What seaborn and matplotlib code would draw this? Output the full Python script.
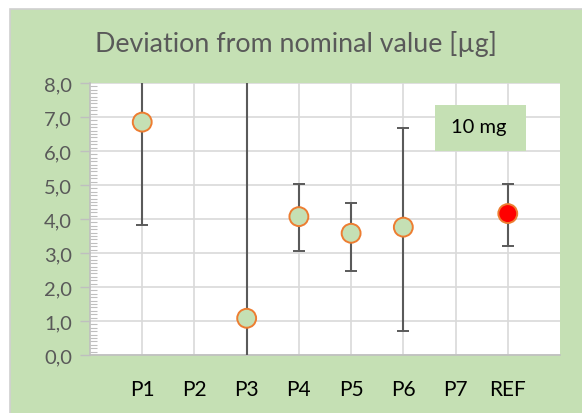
import matplotlib
matplotlib.use("Agg")
import matplotlib.pyplot as plt
import seaborn as sns
import numpy as np
import pandas as pd
from matplotlib.patches import Rectangle
from matplotlib.ticker import MultipleLocator, FuncFormatter

# ---- data ----
categories = ["P1", "P2", "P3", "P4", "P5", "P6", "P7", "REF"]
x_pos = [1, 2, 3, 4, 5, 6, 7, 8]
values = [6.85, np.nan, 1.08, 4.07, 3.58, 3.76, np.nan, 4.16]
err_low = [3.03, np.nan, 7.5, 1.02, 1.10, 3.04, np.nan, 0.94]
err_high = [3.03, np.nan, 7.5, 0.96, 0.90, 2.92, np.nan, 0.87]
title = "Deviation from nominal value [µg]"
note = "10 mg"

sns.set_theme(style="white")
plt.rcParams['font.family'] = ['Lato', 'DejaVu Sans']

df = pd.DataFrame({"cat": categories, "x": x_pos, "y": values,
                   "lo": err_low, "hi": err_high})
df["kind"] = ["ref" if c == "REF" else "sample" for c in categories]
d = df.dropna()

W, H = 582, 414
fig = plt.figure(figsize=(W / 100, H / 100), dpi=100)
fig.patch.set_facecolor("white")
# green chart background with gray border (left and top visible)
bg = Rectangle((10 / W, -0.05), 1.1, 1 - 10 / H + 0.05, transform=fig.transFigure,
               facecolor="#C5E0B4", edgecolor="#D0D0D0", lw=1.2, zorder=-5)
fig.add_artist(bg)

ax = fig.add_axes([90 / W, 1 - 356 / H, 470 / W, 272 / H])
ax.set_facecolor("white")

grid_c = "#D9D9D9"
ax.errorbar(d["x"], d["y"], yerr=[d["lo"], d["hi"]], fmt="none", ecolor="#5A5A5A",
            elinewidth=1.5, capsize=4, capthick=1.4, zorder=3)
pal = {"sample": "#C5E0B4", "ref": "#FF0000"}
sns.scatterplot(data=d, x="x", y="y", hue="kind", palette=pal, s=185,
                edgecolor="#ED7D31", linewidth=1.4, ax=ax, zorder=4, legend=False)

ax.set_xlim(0, 9)
ax.set_ylim(0, 8)
ax.xaxis.set_major_locator(MultipleLocator(1))
ax.yaxis.set_major_locator(MultipleLocator(1))
ax.yaxis.set_minor_locator(MultipleLocator(0.1))
ax.grid(True, which="major", color=grid_c, lw=1.2)
ax.set_axisbelow(True)
for s in ax.spines.values():
    s.set_visible(False)
ax.spines["left"].set_visible(True)
ax.spines["left"].set_color("#BFBFBF")
ax.spines["bottom"].set_visible(True)
ax.spines["bottom"].set_color("#BFBFBF")
ax.spines["left"].set_linewidth(1.2)
ax.spines["bottom"].set_linewidth(1.2)

ax.set_xticks(x_pos)
ax.set_xticklabels(categories)
ax.tick_params(axis="x", length=0, pad=17, labelsize=15, labelcolor="black")
ax.yaxis.set_major_formatter(FuncFormatter(lambda v, p: f"{v:.1f}".replace(".", ",")))
ax.tick_params(axis="y", which="major", direction="out", length=7, width=1,
               color="#BFBFBF", labelsize=14.5, labelcolor="#595959", pad=6, left=True)
ax.tick_params(axis="y", which="minor", direction="in", length=5, width=0.8,
               color="#BFBFBF", left=True)
ax.set_xlabel("")
ax.set_ylabel("")

fig.text(296 / W, 1 - 44 / H, title, ha="center", va="center", fontsize=19.3,
         color="#595959")

# note box
ax.add_patch(Rectangle((435 / W, 1 - 152 / H), 91 / W, 46 / H, transform=fig.transFigure,
                       facecolor="#C5E0B4", edgecolor="none", zorder=6, clip_on=False))
fig.text(479 / W, 1 - 127 / H, note, ha="center", va="center", fontsize=14.5,
         color="black", zorder=7)

fig.savefig("out.png", dpi=100)
